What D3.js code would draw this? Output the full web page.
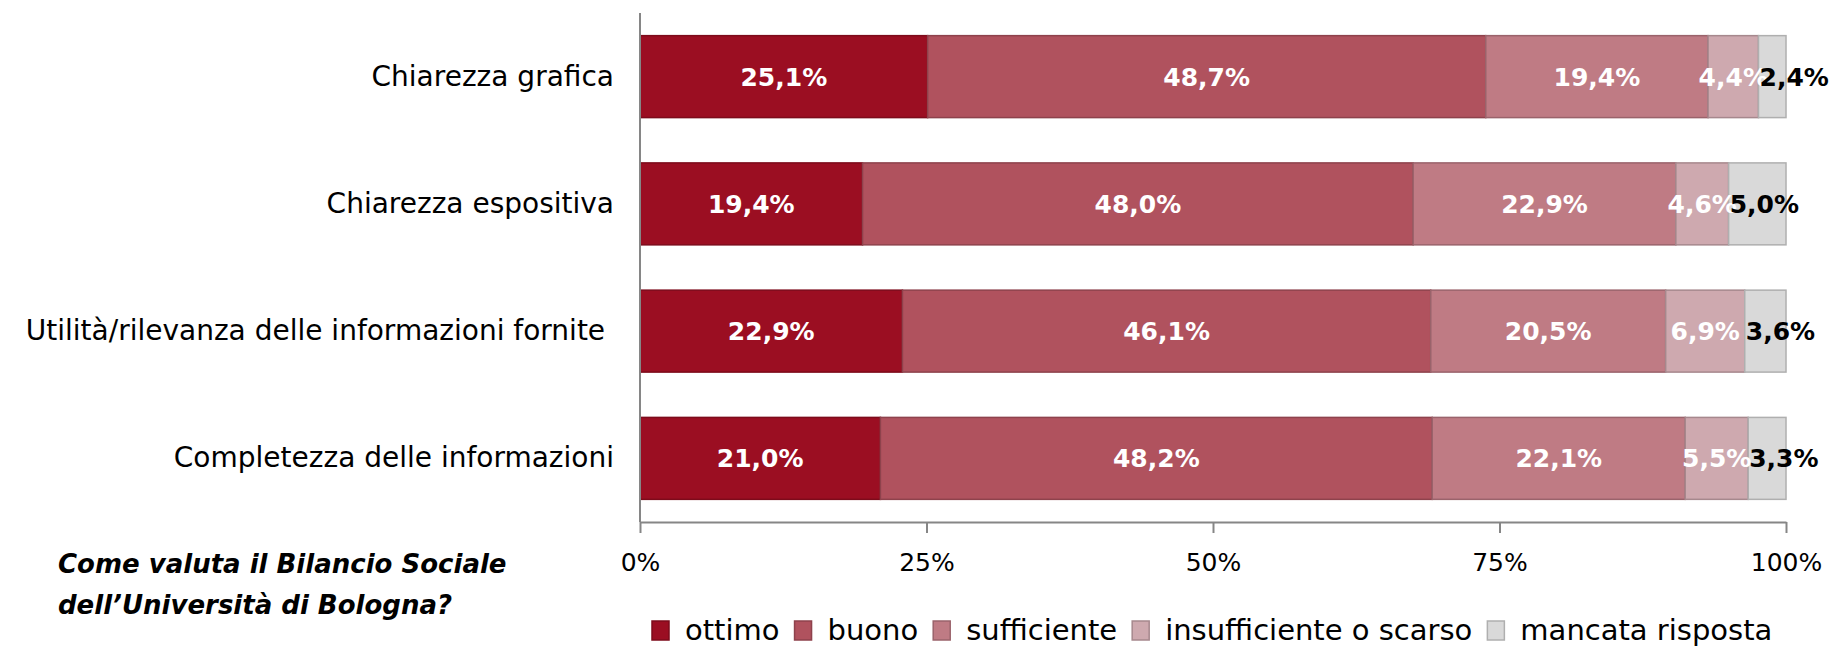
<!DOCTYPE html>
<html>
<head>
<meta charset="utf-8">
<script src="https://cdn.jsdelivr.net/npm/d3@7"></script>
<style>
  body { margin: 0; background: #fff; }
  text { font-family: "DejaVu Sans", sans-serif; }
</style>
</head>
<body>
<svg id="chart" width="1833" height="646"></svg>
<script>
var categories = ["Chiarezza grafica", "Chiarezza espositiva", "Utilità/rilevanza delle informazioni fornite ", "Completezza delle informazioni"];
var seriesNames = ["ottimo", "buono", "sufficiente", "insufficiente o scarso", "mancata risposta"];
var ottimo = [25.1, 19.4, 22.9, 21.0];
var buono = [48.7, 48.0, 46.1, 48.2];
var sufficiente = [19.4, 22.9, 20.5, 22.1];
var insufficiente = [4.4, 4.6, 6.9, 5.5];
var mancata = [2.4, 5.0, 3.6, 3.3];
var tickValues = [0, 0.25, 0.5, 0.75, 1];
var tickLabels = ["0%", "25%", "50%", "75%", "100%"];
var colors = ["#9b0e22", "#b0525e", "#bf7b84", "#cea9af", "#d9d9d9"];

var columns = [ottimo, buono, sufficiente, insufficiente, mancata];
var rows = categories.map(function(c, i) {
  var r = {cat: c};
  seriesNames.forEach(function(s, j) { r[s] = columns[j][i]; });
  return r;
});

var svg = d3.select("#chart");

var x = d3.scaleLinear().domain([0, 1]).range([640, 1786]);
var y = d3.scaleBand().domain(categories).range([13, 522])
    .paddingInner(0.356).paddingOuter(0.178);

// 100% stacked, like the original
var stack = d3.stack().keys(seriesNames).offset(d3.stackOffsetExpand);
var layers = stack(rows);

var fmt = function(v) { return v.toFixed(1).replace(".", ",") + "%"; };

var g = svg.append("g");
layers.forEach(function(layer, j) {
  g.append("g").selectAll("rect").data(layer).enter().append("rect")
    .attr("x", function(d) { return x(d[0]); })
    .attr("y", function(d) { return y(d.data.cat); })
    .attr("width", function(d) { return x(d[1]) - x(d[0]); })
    .attr("height", y.bandwidth())
    .attr("fill", colors[j])
    .attr("stroke", d3.color(colors[j]).darker(0.6))
    .attr("stroke-width", 1.5);
});

// value labels
layers.forEach(function(layer, j) {
  var last = j == seriesNames.length - 1;
  g.append("g").selectAll("text").data(layer).enter().append("text")
    .attr("x", function(d) { return last ? x(d[0]) + 1 : (x(d[0]) + x(d[1])) / 2; })
    .attr("y", function(d) { return y(d.data.cat) + y.bandwidth() / 2; })
    .attr("dy", "0.36em")
    .attr("text-anchor", last ? "start" : "middle")
    .attr("fill", last ? "#000" : "#fff")
    .attr("font-weight", "bold")
    .attr("font-size", 25)
    .text(function(d) { return fmt(d.data[seriesNames[j]]); });
});

// category axis
var yAxis = svg.append("g").attr("transform", "translate(640,0)")
  .call(d3.axisLeft(y).tickSize(0).tickPadding(26));
yAxis.select(".domain").remove();
yAxis.selectAll("text")
  .attr("font-family", "DejaVu Sans, sans-serif")
  .attr("font-size", 28)
  .attr("fill", "#000")
  .style("white-space", "pre");

svg.append("line")
  .attr("x1", 640).attr("x2", 640)
  .attr("y1", y.range()[0]).attr("y2", y.range()[1])
  .attr("stroke", "#868686").attr("stroke-width", 2);

// value axis
var xAxis = svg.append("g").attr("transform", "translate(0,522)")
  .call(d3.axisBottom(x).tickValues(tickValues)
    .tickFormat(function(d, i) { return tickLabels[i]; })
    .tickSize(11).tickSizeOuter(0).tickPadding(20));
xAxis.select(".domain").attr("stroke", "#868686").attr("stroke-width", 2);
xAxis.selectAll(".tick line").attr("stroke", "#868686").attr("stroke-width", 2);
xAxis.selectAll("text")
  .attr("font-family", "DejaVu Sans, sans-serif")
  .attr("font-size", 25)
  .attr("fill", "#000");

// title
var title = svg.append("text")
  .attr("x", 58).attr("y", 573)
  .attr("font-size", 26).attr("font-weight", "bold").attr("font-style", "italic");
title.append("tspan").attr("x", 58).text("Come valuta il Bilancio Sociale");
title.append("tspan").attr("x", 58).attr("dy", 41).text("dell’Università di Bologna?");

// legend
var legend = svg.append("g").attr("transform", "translate(652,630)");
var lx = 0;
seriesNames.forEach(function(s, j) {
  var item = legend.append("g").attr("transform", "translate(" + lx + ",0)");
  item.append("rect")
    .attr("x", 0).attr("y", -9).attr("width", 17).attr("height", 19)
    .attr("fill", colors[j])
    .attr("stroke", d3.color(colors[j]).darker(0.6)).attr("stroke-width", 1.5);
  var t = item.append("text")
    .attr("x", 33).attr("y", 0).attr("dy", "0.36em")
    .attr("font-size", 29)
    .text(s);
  lx += 33 + t.node().getComputedTextLength() + 15;
});
</script>
</body>
</html>
